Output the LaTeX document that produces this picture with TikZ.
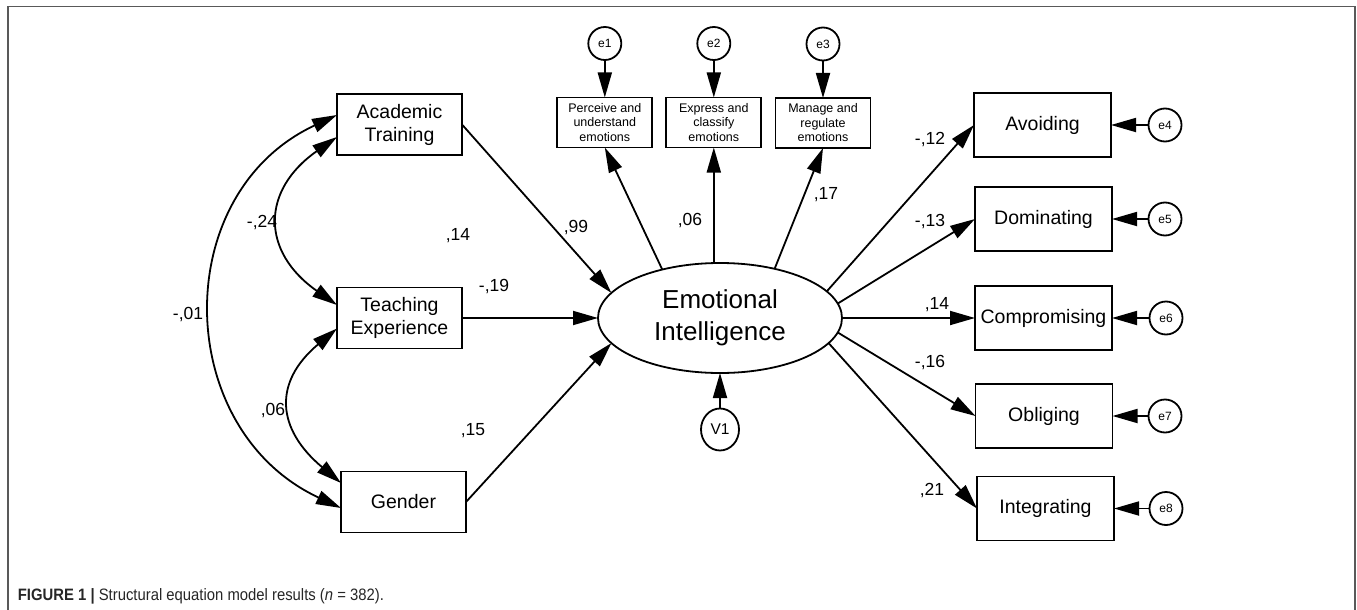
\documentclass[tikz,border=0pt]{standalone}
\usepackage{fontspec}
\setmainfont{Liberation Sans}
\newfontfamily\capfont[FakeStretch=0.9]{Liberation Sans}
\usetikzlibrary{arrows.meta,shapes.geometric}
\begin{document}
\begin{tikzpicture}[x=1pt,y=1pt,line width=1.8pt,
  box/.style={draw,rectangle,inner sep=0pt,outer sep=0pt,align=center,font=\fontsize{19.5}{23}\selectfont},
  lbox/.style={box,minimum width=125pt,minimum height=61pt},
  rbox/.style={box,minimum width=137pt,minimum height=64pt},
  sbox/.style={box,minimum width=95pt,minimum height=50pt,font=\fontsize{12.5}{14.5}\selectfont},
  err/.style={draw,circle,minimum size=33pt,inner sep=0pt,outer sep=0pt,font=\fontsize{12}{14}\selectfont},
  coef/.style={inner sep=0pt,font=\fontsize{17.5}{20}\selectfont},
  arr/.style={-{Triangle[length=25pt,width=14pt]}},
  darr/.style={{Triangle[length=25pt,width=14pt]}-{Triangle[length=25pt,width=14pt]}}
]
\useasboundingbox (0,0) rectangle (1357,-610);
\draw[line width=1.6pt,black!65] (8,-615) -- (8,-6.5) -- (1355,-6.5) -- (1355,-615);

% left boxes
\node[lbox] (AT) at (399.5,-124.5) {Academic\\Training};
\node[lbox] (TE) at (399.5,-318) {Teaching\\Experience};
\node[lbox] (G) at (403.5,-502) {Gender};

% central latent
\node[draw,ellipse,minimum width=244pt,minimum height=110pt,inner sep=0pt,outer sep=0pt,align=center,font=\fontsize{26}{32}\selectfont] (EI) at (720,-318) {Emotional\\Intelligence};
\node[draw,ellipse,minimum width=38pt,minimum height=42pt,inner sep=0pt,outer sep=0pt,font=\fontsize{15.5}{18}\selectfont] (V1) at (720,-429.5) {V1};

% top boxes
\node[sbox] (P) at (604.8,-122.5) {Perceive and\\understand\\emotions};
\node[sbox] (X) at (713.8,-122.5) {Express and\\classify\\emotions};
\node[sbox] (M) at (823,-123) {Manage and\\regulate\\emotions};
\node[err] (e1) at (604.8,-43.5) {e1};
\node[err] (e2) at (713.8,-43.5) {e2};
\node[err] (e3) at (823,-44) {e3};

% right boxes
\node[rbox] (Av) at (1042.5,-125) {Avoiding};
\node[rbox] (Do) at (1043.5,-219) {Dominating};
\node[rbox] (Co) at (1043.5,-318) {Compromising};
\node[rbox] (Ob) at (1044,-416) {Obliging};
\node[rbox] (In) at (1045.5,-508.5) {Integrating};
\node[err] (e4) at (1165,-125) {e4};
\node[err] (e5) at (1165,-219) {e5};
\node[err] (e6) at (1166,-318) {e6};
\node[err] (e7) at (1165,-416) {e7};
\node[err] (e8) at (1166,-508.5) {e8};

% error arrows
\draw[arr] (e1.south) -- (P.north);
\draw[arr] (e2.south) -- (X.north);
\draw[arr] (e3.south) -- (M.north);
\draw[arr] (e4.west) -- (Av.east);
\draw[arr] (e5.west) -- (Do.east);
\draw[arr] (e6.west) -- (Co.east);
\draw[arr] (e7.west) -- (Ob.east);
\draw[arr] (e8.west) -- (In.east);
\draw[arr] (V1.north) -- (EI.south);

% structural paths
\draw[arr] (AT.east) -- (EI.167);
\draw[arr] (TE.east) -- (EI.west);
\draw[arr] (G.east) -- (EI.193);
\draw[arr] (EI.140) -- (P.south);
\draw[arr] (X.south |- EI.north) -- (X.south);
\draw[arr] (EI.42) -- (M.south);
\draw[arr] (EI.14) -- (Av.west);
\draw[arr] (EI.7) -- (Do.west);
\draw[arr] (EI.east) -- (Co.west);
\draw[arr] (EI.-7) -- (Ob.west);
\draw[arr] (EI.-13) -- (In.west);

% covariances
\draw[darr] ([yshift=-12.5pt]AT.west) .. controls +(215:93) and +(145:93) .. ([yshift=13pt]TE.west);
\draw[darr] ([yshift=-10.5pt]TE.west) .. controls +(220:84) and +(140:84) .. ([yshift=19pt]G.west);
\draw[darr] ([yshift=9.5pt]AT.west) .. controls +(205:186) and +(155:186) .. ([yshift=-6pt]G.west);

% coefficients
\node[coef] (c1) at (458,-236) {,14};
\node[coef] (c2) at (494,-287) {-,19};
\node[coef] (c3) at (473,-431) {,15};
\node[coef] (c4) at (262,-223) {-,24};
\node[coef] (c5) at (273,-411) {,06};
\node[coef] (c6) at (188,-315) {-,01};
\node[coef] (c7) at (576,-228) {,99};
\node[coef] (c8) at (690,-221) {,06};
\node[coef] (c9) at (826,-195) {,17};
\node[coef] (c10) at (930,-140) {-,12};
\node[coef] (c11) at (930,-222) {-,13};
\node[coef] (c12) at (937,-305) {,14};
\node[coef] (c13) at (930,-363) {-,16};
\node[coef] (c14) at (932,-491) {,21};

% caption
\node[anchor=base west,inner sep=0pt,font=\capfont\fontsize{16.5}{19}\selectfont,text=black!85] (cap) at (17,-600) {\textbf{FIGURE 1 |} Structural equation model results (\textit{n} = 382).};
\end{tikzpicture}
\end{document}
